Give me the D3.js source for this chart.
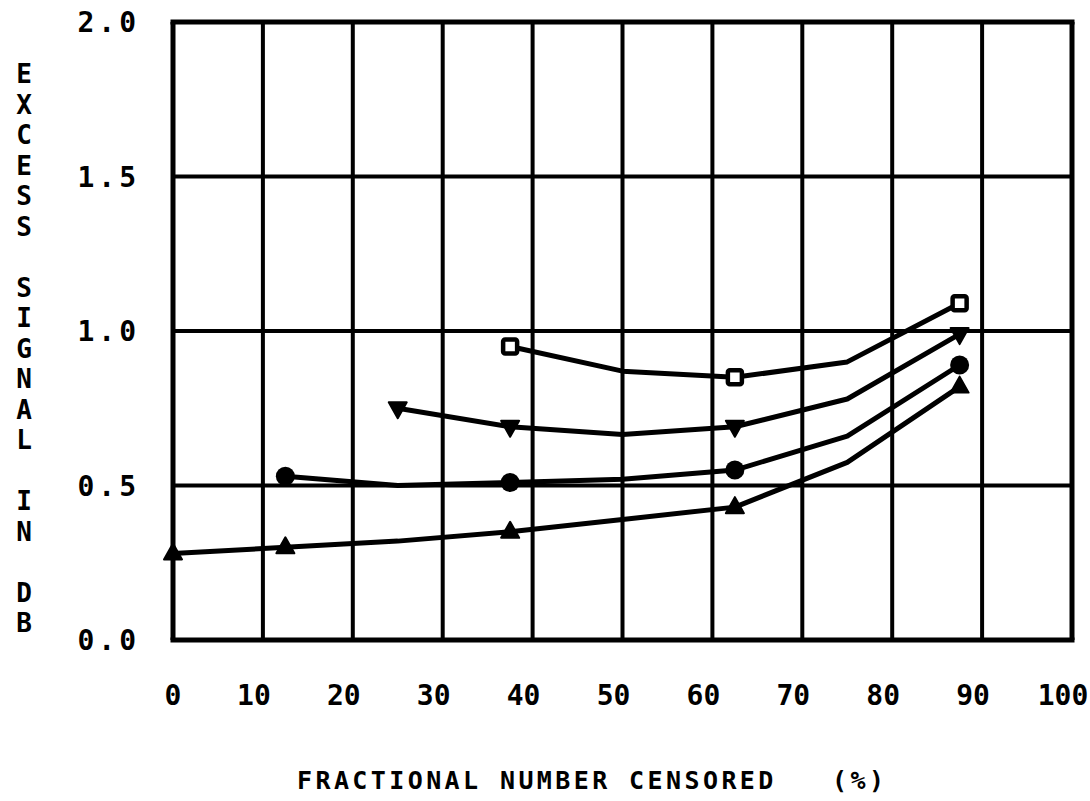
<!DOCTYPE html>
<html><head><meta charset="utf-8">
<script src="https://cdn.jsdelivr.net/npm/d3@7"></script>
<style>
html,body{margin:0;padding:0;background:#fff;}
svg{display:block;}
text{font-family:"DejaVu Sans Mono",monospace;font-weight:bold;fill:#000;}
</style></head><body>
<svg id="c" width="1090" height="801"></svg>
<script>
const xVals = [0, 12.5, 25, 37.5, 50, 62.5, 75, 87.5];
const triUpY = [0.28, 0.30, 0.32, 0.35, 0.39, 0.43, 0.575, 0.82];
const circleY = [null, 0.53, 0.50, 0.51, 0.52, 0.55, 0.66, 0.89];
const triDownY = [null, null, 0.75, 0.69, 0.665, 0.69, 0.78, 0.99];
const squareY = [null, null, null, 0.95, 0.87, 0.85, 0.90, 1.09];
const triUpMarks = [0, 12.5, 37.5, 62.5, 87.5];
const circleMarks = [12.5, 37.5, 62.5, 87.5];
const triDownMarks = [25, 37.5, 62.5, 87.5];
const squareMarks = [37.5, 62.5, 87.5];
const xTicks = [0, 10, 20, 30, 40, 50, 60, 70, 80, 90, 100];
const yTicks = [0, 0.5, 1.0, 1.5, 2.0];
const yTitle = "EXCESS SIGNAL IN DB";
const xTitle = "FRACTIONAL NUMBER CENSORED   (%)";

const svg = d3.select("#c");
const x = d3.scaleLinear().domain([0, 100]).range([173, 1072]);
const y = d3.scaleLinear().domain([0, 2]).range([640, 22]);

// grid
const g = svg.append("g");
g.selectAll("line.v").data(xTicks).join("line")
  .attr("x1", d => x(d)).attr("x2", d => x(d))
  .attr("y1", y(0)).attr("y2", y(2))
  .attr("stroke", "#000").attr("stroke-width", d => (d === 0 || d === 100) ? 5 : 4);
g.selectAll("line.h").data(yTicks).join("line")
  .attr("x1", x(0)).attr("x2", x(100))
  .attr("y1", d => y(d)).attr("y2", d => y(d))
  .attr("stroke", "#000").attr("stroke-width", d => (d === 0 || d === 2) ? 5 : 4)
  .attr("stroke-linecap", "square");

// x tick labels
svg.append("g").selectAll("text").data(xTicks).join("text")
  .attr("x", d => x(d) - (d === 0 ? 0 : 9)).attr("y", 705)
  .attr("text-anchor", "middle")
  .style("font-size", "28px")
  .text(d => d);

// y tick labels
svg.append("g").selectAll("text").data(yTicks).join("text")
  .attr("x", 140).attr("y", d => y(d) + 10)
  .attr("text-anchor", "end")
  .style("font-size", "28px").style("letter-spacing", "4px")
  .text(d => d.toFixed(1));

// y title stacked letters
svg.append("g").selectAll("text").data(yTitle.split("")).join("text")
  .attr("x", 24).attr("y", (d, i) => 74 + i * 30.5 + 9)
  .attr("text-anchor", "middle")
  .style("font-size", "26px")
  .text(d => d);

// x title
svg.append("text").attr("x", 297).attr("y", 789)
  .style("font-size", "25px").style("letter-spacing", "3.4px")
  .style("white-space", "pre")
  .text(xTitle);

// series
const line = d3.line().defined(d => d[1] != null).x(d => x(d[0])).y(d => y(d[1]));
const seriesList = [
  {vals: triUpY, marks: triUpMarks, sym: "triUp"},
  {vals: circleY, marks: circleMarks, sym: "circle"},
  {vals: triDownY, marks: triDownMarks, sym: "triDown"},
  {vals: squareY, marks: squareMarks, sym: "square"}
];
seriesList.forEach(s => {
  const pts = xVals.map((xv, i) => [xv, s.vals[i]]);
  svg.append("path").datum(pts.filter(p => p[1] != null))
    .attr("d", line).attr("fill", "none").attr("stroke", "#000")
    .attr("stroke-width", 5).attr("stroke-linejoin", "round").attr("stroke-linecap", "round");
  const mp = pts.filter(p => s.marks.includes(p[0]));
  const mg = svg.append("g");
  if (s.sym === "circle") {
    mg.selectAll("circle").data(mp).join("circle")
      .attr("cx", d => x(d[0])).attr("cy", d => y(d[1])).attr("r", 9.5).attr("fill", "#000");
  } else if (s.sym === "square") {
    mg.selectAll("rect").data(mp).join("rect")
      .attr("x", d => x(d[0]) - 7).attr("y", d => y(d[1]) - 7)
      .attr("width", 14).attr("height", 14).attr("rx", 2)
      .attr("fill", "#fff").attr("stroke", "#000").attr("stroke-width", 4.5);
  } else if (s.sym === "triUp") {
    mg.selectAll("path").data(mp).join("path")
      .attr("transform", d => `translate(${x(d[0])},${y(d[1])})`)
      .attr("d", "M0,-10 L9,6 L-9,6 Z").attr("fill", "#000")
      .attr("stroke", "#000").attr("stroke-width", 2).attr("stroke-linejoin", "round");
  } else {
    mg.selectAll("path").data(mp).join("path")
      .attr("transform", d => `translate(${x(d[0])},${y(d[1])})`)
      .attr("d", "M0,10 L9,-6 L-9,-6 Z").attr("fill", "#000")
      .attr("stroke", "#000").attr("stroke-width", 2).attr("stroke-linejoin", "round");
  }
});
</script>
</body></html>
